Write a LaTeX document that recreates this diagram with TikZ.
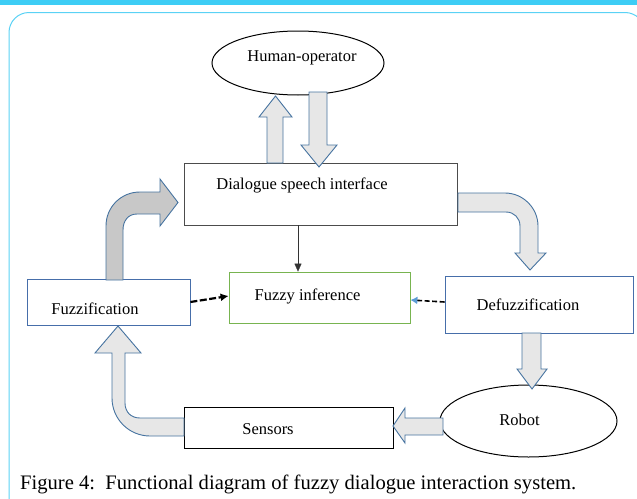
\documentclass[tikz,border=0pt]{standalone}
\usepackage{fontspec}
\setmainfont{Liberation Serif}
\usetikzlibrary{shapes.geometric,arrows.meta}
\definecolor{cyanbar}{RGB}{61,205,245}
\definecolor{cyanline}{RGB}{90,210,245}
\definecolor{arrowedge}{RGB}{70,115,160}
\definecolor{arrowfill}{RGB}{231,231,231}
\definecolor{arrowdark}{RGB}{200,200,200}
\definecolor{boxblue}{RGB}{70,110,170}
\definecolor{boxgreen}{RGB}{120,180,80}
\definecolor{tipblue}{RGB}{91,155,213}
\tikzset{
  lbl/.style={font=\fontsize{16.5}{18}\selectfont, inner sep=0pt},
  ebox/.style={draw, inner sep=0pt, line width=0.8pt},
  blk/.style={fill=arrowfill, draw=arrowedge, line width=0.9pt, line join=miter},
  oval/.style={ellipse, draw, line width=1pt, inner sep=0pt}
}
\begin{document}
\begin{tikzpicture}[x=1pt,y=-1pt]
\useasboundingbox (0,0) rectangle (637,498);
\fill[cyanbar] (0,0) rectangle (637,4.5);
\begin{scope}
\clip (0,0) rectangle (637,498);
\draw[cyanline, line width=1pt, rounded corners=20pt] (9,503) -- (9,12.5) -- (645,12.5) -- (645,503);
\end{scope}

% nodes
\node[oval, minimum width=172pt, minimum height=64pt] (hum) at (298,63) {};
\node[lbl] (humt) at (302,58) {Human-operator};

\node[ebox, draw=black!70, minimum width=273pt, minimum height=62pt] (dsi) at (320.5,194) {};
\node[lbl] (dsit) at (302,185) {Dialogue speech interface};

\node[ebox, draw=boxgreen, minimum width=181pt, minimum height=51pt] (fi) at (319.5,297.5) {};
\node[lbl] (fit) at (307.5,296) {Fuzzy inference};

\node[ebox, draw=boxblue, minimum width=163pt, minimum height=46pt] (fz) at (108.5,302) {};
\node[lbl] (fzt) at (95,309) {Fuzzification};

\node[ebox, draw=boxblue, minimum width=188pt, minimum height=57pt] (dfz) at (539,304.5) {};
\node[lbl] (dfzt) at (528,305) {Defuzzification};

\node[oval, minimum width=177pt, minimum height=72pt] (rob) at (528.5,421) {};
\node[lbl] (robt) at (519.5,420) {Robot};

\node[ebox, draw=black, line width=1pt, minimum width=209pt, minimum height=41pt] (sen) at (288.5,427.5) {};
\node[lbl] (sent) at (268,429) {Sensors};

% thin arrow
\draw[-{Triangle[length=8pt,width=7pt]}, black!80] (298,0 |- dsi.south) -- (298,0 |- fi.north);

% dashed arrows
\draw[line width=2.2pt, dash pattern=on 7pt off 2.5pt, -{Latex[length=8pt,width=8pt]}] (fz.east |- 0,302) -- (fi.west |- 0,296);
\draw[line width=1.6pt, dash pattern=on 5pt off 2.5pt, -{Latex[length=7pt,width=8pt,color=tipblue]}] (dfz.west |- 0,302) -- (fi.east |- 0,300);

% block arrows
\draw[blk] (267,163) -- (267,117) -- (259,117) -- (275.5,96) -- (292,117) -- (283,117) -- (283,163) -- cycle;
\draw[blk] (309,92) -- (327,92) -- (327,145) -- (337,145) -- (319,167) -- (301,145) -- (309,145) -- cycle;
\draw[blk] (522,333) -- (541,333) -- (541,369) -- (547,369) -- (532,389) -- (517,369) -- (522,369) -- cycle;
\draw[blk] (443,418) -- (405,418) -- (405,408) -- (393,426) -- (405,443) -- (405,435) -- (443,435) -- cycle;

% curved: dialogue -> defuzzification
\draw[blk] (458,193) -- (505,193) .. controls (523,193) and (538,208) .. (538,226)
  -- (538,253) -- (546,253) -- (530,270) -- (515,253) -- (520,253) -- (520,226)
  .. controls (520,218) and (514,212) .. (506,212) -- (458,212) -- cycle;

% curved: fuzzification -> dialogue
\draw[blk, fill=arrowdark] (106,280) -- (106,226) .. controls (106,207) and (121,192) .. (140,192)
  -- (160,192) -- (160,179) -- (178,202.5) -- (160,226) -- (160,214) -- (137,214)
  .. controls (128,214) and (123,221) .. (123,230) -- (123,280) -- cycle;

% curved: sensors -> fuzzification
\draw[blk] (184,418) -- (140,418) .. controls (131,418) and (125,412) .. (125,403)
  -- (125,353) -- (141,353) -- (118,326) -- (95,353) -- (112,353) -- (112,398)
  .. controls (112,419) and (129,436) .. (150,436) -- (184,436) -- cycle;

% caption
\node[anchor=west, inner sep=0pt, font=\fontsize{20.6}{23}\selectfont] (cap) at (20,484) {Figure 4:\ \ Functional diagram of fuzzy dialogue interaction system.};
\end{tikzpicture}
\end{document}
